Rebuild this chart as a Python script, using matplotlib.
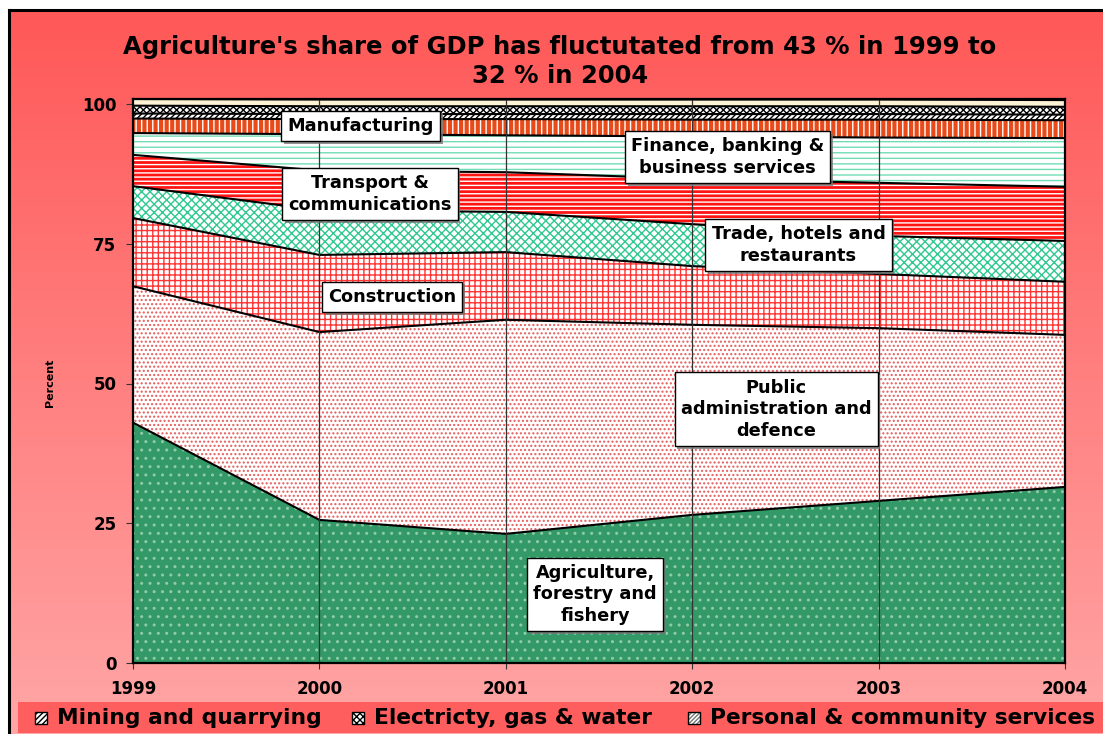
import numpy as np
import matplotlib
matplotlib.use("Agg")
import matplotlib.pyplot as plt
import matplotlib.patheffects as pe
from matplotlib.patches import Rectangle
from matplotlib.lines import Line2D

# ---------------- data ----------------
years = [1999, 2000, 2001, 2002, 2003, 2004]
agriculture = [43.0, 25.6, 23.1, 26.5, 29.0, 31.5]
public_admin = [24.4, 33.6, 38.3, 34.0, 30.9, 27.2]
construction = [12.2, 13.8, 12.1, 10.5, 9.7, 9.5]
trade = [5.7, 8.0, 7.2, 7.5, 6.8, 7.3]
transport = [5.6, 7.1, 7.1, 8.1, 9.5, 9.7]
finance = [3.9, 6.5, 6.6, 7.6, 8.1, 8.7]
manufacturing = [2.6, 2.7, 2.9, 3.0, 3.2, 3.2]
mining = [0.9, 0.9, 0.9, 1.0, 1.0, 1.0]
electricity = [1.4, 1.4, 1.4, 1.4, 1.4, 1.4]
personal = [1.2, 1.2, 1.2, 1.2, 1.2, 1.2]

series = [agriculture, public_admin, construction, trade, transport,
          finance, manufacturing, mining, electricity, personal]
yticks = [0, 25, 50, 75, 100]
title = "Agriculture's share of GDP has fluctutated from 43 % in 1999 to\n32 % in 2004"
ylabel = "Percent"

labels = [
    ("Manufacturing", 2000.22, 96.1),
    ("Finance, banking &\nbusiness services", 2002.19, 90.5),
    ("Transport &\ncommunications", 2000.27, 83.9),
    ("Trade, hotels and\nrestaurants", 2002.57, 74.8),
    ("Construction", 2000.39, 65.5),
    ("Public\nadministration and\ndefence", 2002.45, 45.4),
    ("Agriculture,\nforestry and\nfishery", 2001.48, 12.3),
]
legend_names = ["Mining and quarrying", "Electricty, gas & water",
                "Personal & community services"]

# ---------------- styles ----------------
# (facecolor, hatchcolor, hatch)
styles = [
    ("#339966", "#8FCBAA", ".."),
    ("white", "#E65C5C", "...."),
    ("white", "#FF3535", "+++"),
    ("white", "#30C891", "xxxx"),
    ("#FF1414", "white", "----"),
    ("white", "#70DDB5", "---"),
    ("#E84A1A", "white", "|||"),
    ("white", "black", "//////"),
    ("white", "black", "xxxxx"),
    ("#FFF3D6", "#FFF3D6", None),
]

W, H = 1103, 734
fig = plt.figure(figsize=(W / 100, H / 100), dpi=100)
fig.patch.set_facecolor("white")

# background gradient
bg = fig.add_axes([10 / W, 0, 1 - 10 / W, (H - 11) / H], zorder=-10)
grad = np.linspace(0, 1, 256)[:, None]
top = np.array([255, 88, 88]) / 255.0
bot = np.array([255, 166, 166]) / 255.0
img = top[None, None, :] * (1 - grad[:, :, None]) + bot[None, None, :] * grad[:, :, None]
bg.imshow(img, aspect="auto", extent=[0, 1, 0, 1], origin="upper")
bg.set_axis_off()

# frame lines of the chart area
fig.add_artist(Line2D([8.5 / W, 8.5 / W], [0, 1 - 10 / H], color="black", lw=2.2))
fig.add_artist(Line2D([8.5 / W, 1], [1 - 10 / H, 1 - 10 / H], color="black", lw=2.2))

# legend band
fig.add_artist(Rectangle((18 / W, 1 / H), (W - 18) / W, 31 / H,
                         transform=fig.transFigure, facecolor="#FF5E5E",
                         edgecolor="none", zorder=1))

ymax = float(np.sum(np.array(series), axis=0).max())
ax_left, ax_right = 133 / W, 1065 / W
ax_bottom = 1 - 663 / H
px_per_unit = (663 - 104) / 100.0
ax_top = 1 - (663 - ymax * px_per_unit) / H
ax = fig.add_axes([ax_left, ax_bottom, ax_right - ax_left, ax_top - ax_bottom])
ax.set_facecolor("white")

x = np.array(years, dtype=float)
base = np.zeros(len(years))
for vals, (fc, hc, hatch) in zip(series, styles):
    topv = base + np.array(vals)
    ax.fill_between(x, base, topv, facecolor=fc, edgecolor=hc, hatch=hatch,
                    linewidth=0, zorder=1)
    ax.plot(x, topv, color="black", lw=1.5, zorder=2)
    base = topv

for yr in years[1:-1]:
    ax.axvline(yr, color="#333333", lw=0.9, zorder=3)

ax.set_xlim(years[0], years[-1])
ax.set_ylim(0, ymax)
ax.set_xticks(years)
ax.set_xticklabels([str(y) for y in years], fontweight="bold", fontsize=12)
ax.set_yticks(yticks)
ax.set_yticklabels([str(t) for t in yticks], fontweight="bold", fontsize=12)
ax.tick_params(axis="x", length=4, pad=8, color="#333333")
ax.tick_params(axis="y", length=5, pad=7, color="#333333")
for s in ax.spines.values():
    s.set_linewidth(1.6)
    s.set_color("black")
    s.set_zorder(6)

for txt, lx, ly in labels:
    t = ax.text(lx, ly, txt, ha="center", va="center", fontsize=12.8,
                fontweight="bold", linespacing=1.25, zorder=5,
                bbox=dict(boxstyle="square,pad=0.35", facecolor="white",
                          edgecolor="black", linewidth=1))
    t.get_bbox_patch().set_path_effects(
        [pe.withSimplePatchShadow(offset=(2, -2), shadow_rgbFace="#777777", alpha=0.8)])

fig.text(560 / W, 1 - 61.5 / H, title, ha="center", va="center", fontsize=17.5,
         fontweight="bold", linespacing=1.25)
fig.text(50 / W, 1 - 383 / H, ylabel, ha="center", va="center", rotation=90,
         fontsize=8, fontweight="bold")

# legend items
leg_y = 1 - 718 / H
icon_x = [35, 352, 688]
leg_hatch = ["//////", "xxxxx", "////////"]
leg_fc = ["white", "white", "white"]
leg_hc = ["black", "black", "#777777"]
for ix, name, hh, fcc, hcc in zip(icon_x, legend_names, leg_hatch, leg_fc, leg_hc):
    r = Rectangle((ix / W, 1 - 724 / H), 12 / W, 12 / H, transform=fig.transFigure,
                  facecolor=fcc, edgecolor=hcc, hatch=hh, linewidth=0, zorder=2)
    fig.add_artist(r)
    fig.add_artist(Rectangle((ix / W, 1 - 724 / H), 12 / W, 12 / H,
                             transform=fig.transFigure, facecolor="none",
                             edgecolor="black", linewidth=1, zorder=3))
    fig.text((ix + 22) / W, leg_y, name, ha="left", va="center", fontsize=15.7,
             fontweight="bold", zorder=3)

fig.savefig("out.png", dpi=100)
